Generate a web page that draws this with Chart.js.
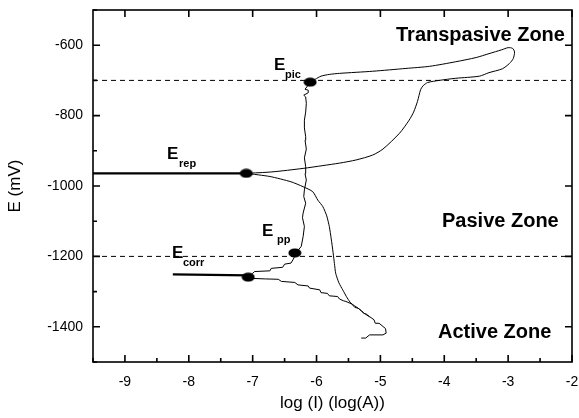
<!DOCTYPE html>
<html>
<head>
<meta charset="utf-8">
<script src="https://cdn.jsdelivr.net/npm/chart.js@4.4.1/dist/chart.umd.min.js"></script>
<style>
  html, body { margin: 0; padding: 0; background: #fff; }
  canvas { display: block; }
</style>
</head>
<body>
<canvas id="chart" width="579" height="418"></canvas>
<script>
// Forward cathodic scan: starts at -1430 mV, steps up to E_corr
const cathFwdLogI = [-5.30, -5.23, -5.17, -4.96, -4.91, -4.92, -4.96, -5.02, -5.08, -5.10, -5.17, -5.22, -5.26, -5.30, -5.35, -5.40, -5.45, -5.54, -5.58, -5.64, -5.67, -5.80, -5.83, -5.93, -5.95, -6.11, -6.13, -6.29, -6.34, -6.55, -6.60, -6.80, -7.07];
const cathFwdE    = [-1432, -1432, -1423, -1423, -1418, -1405, -1399, -1390, -1390, -1380, -1371, -1364, -1362, -1354, -1347, -1345, -1335, -1328, -1326, -1321, -1314, -1312, -1305, -1303, -1295, -1290, -1284, -1281, -1274, -1271, -1265, -1264, -1262];

// current minimum at E_corr
const corrDipLogI = [-8.25, -7.07];
const corrDipE    = [-1251, -1254];

// Anodic scan: E_corr -> E_pp -> passive plateau -> E_pic
const anodicLogI = [-7.07, -7.00, -6.97, -6.73, -6.71, -6.53, -6.50, -6.40, -6.37, -6.33, -6.30, -6.24, -6.21, -6.19, -6.22, -6.21, -6.17, -6.20, -6.19, -6.16, -6.18, -6.17, -6.19, -6.16, -6.18, -6.17, -6.19, -6.19, -6.17, -6.16, -6.17, -6.20, -6.13, -6.13, -6.18, -6.15, -6.12, -6.10];
const anodicE    = [-1258, -1248, -1243, -1241, -1234, -1231, -1222, -1219, -1210, -1196, -1185, -1172, -1144, -1115, -1090, -1077, -1049, -1030, -1011, -983, -965, -945, -920, -895, -870, -860, -835, -813, -790, -765, -747, -742, -735, -728, -725, -718, -712, -707];

// Transpassive loop and reverse scan down to E_rep
const reverseLogI = [-6.10, -6.02, -5.93, -5.80, -5.64, -5.12, -4.60, -4.23, -3.82, -3.50, -3.30, -3.10, -3.00, -2.93, -2.90, -2.92, -2.98, -3.09, -3.30, -3.45, -3.82, -4.08, -4.26, -4.33, -4.37, -4.42, -4.48, -4.55, -4.70, -4.96, -5.12, -5.38, -5.64, -5.90, -6.21, -6.70, -7.10];
const reverseE    = [-707, -697, -688, -683, -680, -674, -666, -660, -647, -635, -624, -613, -607, -609, -619, -638, -652, -667, -678, -688, -694, -700, -706, -715, -726, -760, -790, -813, -850, -895, -912, -926, -935, -942, -950, -960, -964];

// current minimum at E_rep
const repDipLogI = [-9.5, -7.10];
const repDipE    = [-964, -964];

// Cathodic branch after E_rep
const cathRevLogI = [-7.10, -6.73, -6.40, -6.21, -6.06, -5.98, -5.90, -5.84, -5.80, -5.77, -5.74, -5.72, -5.70, -5.65, -5.59, -5.52, -5.46, -5.35, -5.25, -5.17];
const cathRevE    = [-964, -973, -988, -1002, -1016, -1040, -1059, -1085, -1115, -1150, -1190, -1220, -1248, -1275, -1295, -1318, -1333, -1347, -1362, -1372];

// Characteristic potentials (dots)
const markLogI = [-7.10, -7.07, -6.34, -6.10];
const markE    = [-964, -1259, -1190, -705];

// dashed reference levels
const refLevels = [-700, -1200];

const xMin = -9.5, xMax = -2;
const yMin = -1500, yMax = -500;

const pts = (xs, ys) => xs.map((v, i) => ({ x: v, y: ys[i] }));

// elliptic marker
const dot = document.createElement('canvas');
dot.width = 14; dot.height = 10;
const dctx = dot.getContext('2d');
dctx.fillStyle = '#000';
dctx.beginPath();
dctx.ellipse(7, 5, 6.5, 4.5, 0, 0, Math.PI * 2);
dctx.fill();

const thin = { borderColor: '#000', borderWidth: 1, pointRadius: 0, showLine: true, fill: false };

const datasets = [
    ...refLevels.map(v => ({ ...thin, data: pts([xMin, xMax], [v, v]), borderDash: [5, 4] })),
    { ...thin, data: pts(cathFwdLogI, cathFwdE) },
    { ...thin, data: pts(corrDipLogI, corrDipE), borderWidth: 2.2 },
    { ...thin, data: pts(anodicLogI, anodicE) },
    { ...thin, data: pts(reverseLogI, reverseE), tension: 0.25 },
    { ...thin, data: pts(repDipLogI, repDipE), borderWidth: 2.2 },
    { ...thin, data: pts(cathRevLogI, cathRevE), tension: 0.2 },
    { data: pts(markLogI, markE), showLine: false, pointStyle: dot, pointRadius: 6 }
];

// box around the plot with inward ticks
const frame = {
    id: 'frame',
    afterDatasetsDraw(chart) {
        const { ctx, chartArea: a, scales: { x, y } } = chart;
        ctx.save();
        ctx.strokeStyle = '#000';
        ctx.lineWidth = 1.6;
        ctx.strokeRect(a.left, a.top, a.right - a.left, a.bottom - a.top);
        ctx.beginPath();
        x.ticks.forEach(t => {
            const px = x.getPixelForValue(t.value);
            const major = Number.isInteger(t.value);
            ctx.moveTo(px, a.bottom); ctx.lineTo(px, a.bottom - (major ? 7 : 4));
            if (major) { ctx.moveTo(px, a.top); ctx.lineTo(px, a.top + 7); }
        });
        y.ticks.forEach(t => {
            const py = y.getPixelForValue(t.value);
            const major = t.value % 200 === 0;
            ctx.moveTo(a.left, py); ctx.lineTo(a.left + (major ? 7 : 4), py);
            if (major) { ctx.moveTo(a.right, py); ctx.lineTo(a.right - 7, py); }
        });
        ctx.stroke();

        // annotations
        ctx.fillStyle = '#000';
        ctx.textBaseline = 'alphabetic';
        ctx.font = 'bold 20px "Liberation Sans", Arial, sans-serif';
        ctx.fillText('Transpasive Zone', 396, 41);
        ctx.fillText('Pasive Zone', 442, 227);
        ctx.fillText('Active Zone', 438, 338);

        const sym = (sub, ex, ey, sx, sy) => {
            ctx.font = 'bold 17px "Liberation Sans", Arial, sans-serif';
            ctx.fillText('E', ex, ey);
            ctx.font = 'bold 11px "Liberation Sans", Arial, sans-serif';
            ctx.fillText(sub, sx, sy);
        };
        sym('pic', 274, 70, 285, 78);
        sym('rep', 167, 159, 179, 167);
        sym('corr', 172, 258, 183, 266);
        sym('pp', 262, 236, 277, 243);
        ctx.restore();
    }
};

const tickFont = { family: '"Liberation Sans", Arial, sans-serif', size: 14 };
const titleFont = { family: '"Liberation Sans", Arial, sans-serif', size: 17 };

new Chart(document.getElementById('chart'), {
    type: 'scatter',
    data: { datasets },
    options: {
        responsive: false,
        animation: false,
        layout: { padding: { top: 10, right: 6, left: 0, bottom: 0 } },
        plugins: { legend: { display: false }, tooltip: { enabled: false } },
        scales: {
            x: {
                type: 'linear',
                min: xMin, max: xMax,
                grid: { display: false, drawTicks: false, tickLength: 0 },
                border: { display: false },
                ticks: {
                    stepSize: 0.5,
                    padding: 12,
                    maxRotation: 0,
                    color: '#000',
                    font: tickFont,
                    callback: v => Number.isInteger(v) ? v : ''
                },
                title: {
                    display: true,
                    text: 'log (I) (log(A))',
                    color: '#000',
                    padding: { top: 0, bottom: 4 },
                    font: titleFont
                },
                afterFit: s => {
                    s.height = 56;
                    s.paddingLeft = 0; s.paddingRight = 0;
                }
            },
            y: {
                type: 'linear',
                min: yMin, max: yMax,
                grid: { display: false, drawTicks: false, tickLength: 0 },
                border: { display: false },
                ticks: {
                    stepSize: 100,
                    padding: 10,
                    color: '#000',
                    font: tickFont,
                    callback: v => v % 200 === 0 ? v : ''
                },
                title: {
                    display: true,
                    text: 'E (mV)',
                    color: '#000',
                    padding: { top: 5, bottom: 0 },
                    font: titleFont
                },
                afterFit: s => {
                    s.width = 93;
                    s.paddingTop = 0; s.paddingBottom = 0;
                }
            }
        }
    },
    plugins: [frame]
});
</script>
</body>
</html>
